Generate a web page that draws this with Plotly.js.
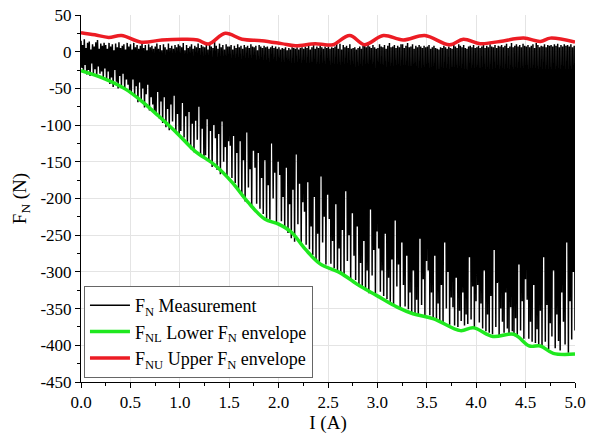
<!DOCTYPE html>
<html>
<head>
<meta charset="utf-8">
<script src="https://cdn.plot.ly/plotly-3.0.1.min.js"></script>
<style>html,body{margin:0;padding:0;background:#fff;}#chart{width:595px;height:437px;}</style>
</head>
<body>
<div id="chart"></div>
<script>
// Measured normal force F_N (sampled uniformly over 0..5 A)
const measured = [
 15,-22, 9,-28, 17,-18, 5,-31, 12,-25, 14,-33, 3,-16, 10,-29, 7,-24, 13,-34, 16,-20, 4,-30, 11,-27, 8,-35, 12,-23,
 9,-39, 4,-27, 12,-44, 7,-35, 10,-48, 2,-25, 11,-41, 6,-50, 13,-33, 5,-46, 8,-30, 10,-52, 3,-38, 12,-45, 7,-53,
 10,-55, 3,-38, 12,-61, 6,-47, 9,-69, 4,-42, 8,-65, 11,-50, 5,-76, 9,-58, 2,-45, 10,-80, 6,-62, 8,-72, 4,-82,
 7,-85, 11,-55, 4,-91, 9,-68, 2,-97, 10,-62, 6,-103, 3,-78, 11,-107, 5,-72, 8,-95, 4,-60, 9,-110, 6,-85, 10,-112,
 8,-108, 6,-70, 12,-117, 2,-88, 9,-125, 5,-82, 7,-133, 10,-98, 4,-137, 8,-94, 6,-120, 11,-75, 5,-140, 9,-105, 7,-143,
 6,-141, 9,-92, 3,-149, 12,-108, 7,-157, 5,-100, 14,-118, 8,-161, 4,-112, 11,-167, 6,-95, 9,-150, 3,-130, 10,-170, 7,-122,
 7,-128, 9,-172, 3,-115, 8,-179, 5,-138, 10,-189, 6,-122, 8,-197, 4,-148, 9,-204, 6,-110, 8,-185, 5,-160, 10,-210, 7,-135,
 6,-158, 8,-207, 2,-138, 9,-214, 7,-172, 5,-221, 8,-148, 6,-227, 7,-182, 4,-229, 6,-125, 8,-200, 5,-165, 7,-232, 4,-150,
 6,-168, 3,-231, 5,-198, 4,-239, 6,-158, 2,-247, 5,-208, 3,-254, 6,-188, 5,-259, 4,-140, 6,-235, 3,-180, 5,-262, 6,-205,
 4,-218, 7,-263, 5,-178, 8,-269, 3,-238, 6,-277, 9,-198, 4,-283, 7,-248, 5,-287, 8,-170, 6,-260, 4,-225, 7,-290, 5,-195,
 7,-228, 4,-289, 6,-258, 5,-295, 7,-208, 12,-299, 4,-268, 11,-304, 3,-243, 9,-307, 6,-190, 8,-285, 5,-250, 10,-310, 4,-220,
 5,-278, 6,-311, 3,-238, 5,-317, 7,-288, 4,-321, 8,-258, 11,-325, 6,-298, 12,-329, 7,-215, 5,-305, 9,-270, 6,-331, 4,-245,
 5,-268, 10,-327, 7,-298, 6,-333, 9,-248, 4,-337, 8,-308, 12,-341, 6,-283, 7,-345, 9,-230, 5,-320, 8,-290, 6,-348, 10,-260,
 10,-318, 5,-347, 8,-278, 12,-351, 6,-328, 7,-355, 10,-298, 4,-357, 8,-338, 6,-359, 9,-255, 7,-345, 5,-310, 8,-360, 6,-285,
 7,-298, 9,-359, 4,-328, 6,-363, 8,-278, 5,-365, 4,-343, 3,-369, 6,-318, 5,-371, 8,-260, 6,-350, 4,-300, 7,-372, 5,-335,
 4,-348, 9,-373, 7,-308, 5,-375, 10,-353, 8,-367, 6,-328, 9,-373, 5,-358, 4,-371, 7,-280, 8,-365, 6,-320, 9,-376, 5,-340,
 6,-318, 8,-369, 5,-343, 7,-377, 9,-298, 5,-381, 8,-358, 6,-383, 10,-333, 7,-385, 6,-270, 9,-375, 5,-315, 8,-386, 7,-350,
 9,-368, 6,-383, 8,-328, 11,-377, 5,-385, 7,-348, 12,-381, 6,-387, 8,-363, 10,-389, 7,-290, 9,-380, 6,-340, 11,-391, 8,-310,
 7,-338, 9,-391, 6,-368, 8,-395, 10,-318, 5,-397, 12,-378, 9,-399, 6,-353, 8,-403, 7,-280, 10,-395, 6,-345, 9,-405, 8,-370,
 9,-388, 7,-298, 10,-404, 8,-358, 11,-394, 6,-407, 9,-328, 7,-368, 10,-399, 8,-260, 9,-410, 7,-340, 10,-392, 6,-300, 8,-380
];
const currentStart = 0;
const currentEnd = 5;

// Upper envelope F_NU
const upperI = [0, 0.14, 0.28, 0.41, 0.61, 0.82, 1.05, 1.18, 1.29, 1.46, 1.63, 1.83, 2.03, 2.17, 2.37, 2.47, 2.55, 2.72, 2.87, 3.06, 3.26, 3.48, 3.73, 3.87, 4.04, 4.24, 4.48, 4.65, 4.75, 5.0];
const upperF = [26, 23, 19.5, 22, 13, 16, 17, 16, 10.5, 25, 17, 15, 11, 8, 11, 9.5, 9.5, 22, 9.5, 22, 16, 22, 9.5, 17, 11, 14, 18.5, 14, 18.5, 13];

// Lower envelope F_NL
const lowerI = [0, 0.24, 0.45, 0.61, 0.78, 0.98, 1.15, 1.36, 1.53, 1.69, 1.86, 2.0, 2.13, 2.27, 2.42, 2.62, 2.82, 2.99, 3.2, 3.36, 3.57, 3.84, 3.97, 4.17, 4.38, 4.54, 4.65, 4.78, 5.0];
const lowerF = [-26, -37, -51, -67, -87, -112, -135, -155, -178, -205, -228, -235, -246, -269, -289, -301, -319, -332, -348, -357, -364, -380, -376, -388, -385, -401, -401, -411, -412];

// Tick labels
const xTickVals = [0, 0.5, 1, 1.5, 2, 2.5, 3, 3.5, 4, 4.5, 5];
const xTickText = ["0.0", "0.5", "1.0", "1.5", "2.0", "2.5", "3.0", "3.5", "4.0", "4.5", "5.0"];
const yTickVals = [50, 0, -50, -100, -150, -200, -250, -300, -350, -400, -450];
const yTickText = ["50", "0", "-50", "-100", "-150", "-200", "-250", "-300", "-350", "-400", "-450"];

const FONT = "'Liberation Serif', 'Times New Roman', serif";

const traces = [
  {
    type: 'scatter', mode: 'lines',
    x0: currentStart, dx: (currentEnd - currentStart) / (measured.length - 1),
    y: measured,
    name: 'F<sub>N</sub> Measurement',
    line: {color: '#000000', width: 1.5}
  },
  {
    type: 'scatter', mode: 'lines',
    x: lowerI, y: lowerF,
    name: 'F<sub>NL</sub> Lower F<sub>N</sub> envelope',
    line: {color: '#1fe81f', width: 3.5, shape: 'spline', smoothing: 1}
  },
  {
    type: 'scatter', mode: 'lines',
    x: upperI, y: upperF,
    name: 'F<sub>NU</sub> Upper F<sub>N</sub> envelope',
    line: {color: '#ec1c24', width: 3.5, shape: 'spline', smoothing: 1}
  }
];

const axisCommon = {
  showline: true, linecolor: '#000', linewidth: 1,
  ticks: 'outside', ticklen: 5, tickwidth: 1, tickcolor: '#000',
  showgrid: true, gridcolor: '#e4e4e4', gridwidth: 1,
  zeroline: false, mirror: false,
  tickfont: {family: FONT, size: 17, color: '#000'}
};

const layout = {
  width: 595, height: 437,
  margin: {l: 81, r: 20, t: 15, b: 55},
  paper_bgcolor: '#fff', plot_bgcolor: '#fff',
  showlegend: true,
  xaxis: Object.assign({}, axisCommon, {
    range: [0, 5], tickmode: 'array', tickvals: xTickVals, ticktext: xTickText,
    minor: {ticks: 'outside', ticklen: 3, tickcolor: '#000', dtick: 0.25, showgrid: false},
    title: {text: 'I (A)', font: {family: FONT, size: 19, color: '#000'}, standoff: 2}
  }),
  yaxis: Object.assign({}, axisCommon, {
    range: [-450, 50], tickmode: 'array', tickvals: yTickVals, ticktext: yTickText,
    minor: {ticks: 'outside', ticklen: 3, tickcolor: '#000', dtick: 25, showgrid: false},
    title: {text: 'F<sub>N</sub> (N)', font: {family: FONT, size: 19, color: '#000'}, standoff: 8}
  }),
  legend: {
    x: 0.006, y: 0.011, xanchor: 'left', yanchor: 'bottom',
    bgcolor: '#fff', bordercolor: '#666', borderwidth: 1,
    font: {family: FONT, size: 18, color: '#000'},
    itemwidth: 40,
    tracegroupgap: 0
  }
};

Plotly.newPlot('chart', traces, layout, {displayModeBar: false, staticPlot: true});
</script>
</body>
</html>
